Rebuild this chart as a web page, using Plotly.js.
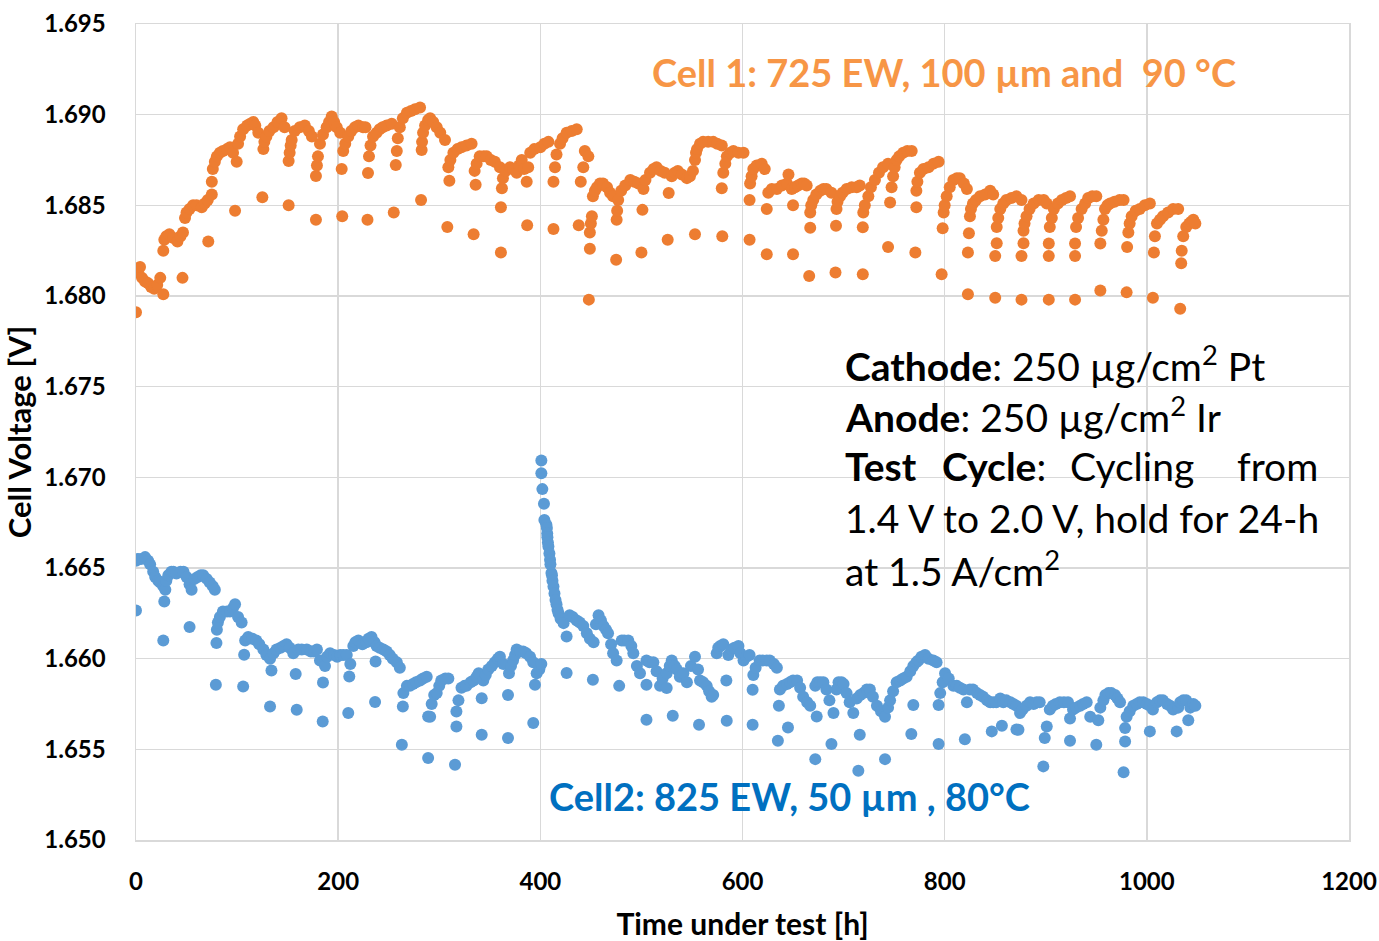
<!DOCTYPE html>
<html>
<head>
<meta charset="utf-8">
<script src="https://cdn.plot.ly/plotly-3.0.1.min.js"></script>
<style>
  html, body { margin: 0; padding: 0; background: #ffffff; }
  #chart { width: 1379px; height: 941px; }
</style>
</head>
<body>
<div id="chart"></div>
<script>
// ---- Cell 1 (725 EW, 100 um, 90 C) : time [h] and cell voltage [V] ----
const cell1Hours = [
  0, 0, 2, 4, 6, 9, 12, 15, 18, 21, 24, 27,
  27, 28, 30, 33, 37, 41, 44, 46.5, 46,
  48.5, 50, 53, 56.5, 60, 65, 68, 71, 75, 71.5,
  75, 76, 78, 80, 83, 86, 90, 93, 96, 99.6, 98,
  101, 103, 106, 110, 113, 116, 118, 121, 125,
  126, 127, 129, 132, 136, 140, 144, 147, 151, 151,
  152, 153, 154, 157, 162, 167, 171, 174, 178, 178,
  179, 180, 182, 185, 188.6, 191, 193.6, 196, 198.6, 202, 204, 203.5,
  205, 207, 210, 213, 216.6, 220, 224.6, 227, 229, 229.5,
  230.5, 232, 234.5, 238, 241, 244, 248, 253, 255, 257,
  258, 259, 261, 264, 268, 272, 276, 281, 282, 282.6,
  283, 284, 286, 289, 291, 294, 297.5, 301, 305.7, 308, 310,
  309, 311, 314, 318, 322, 327, 332, 334, 336,
  335, 337, 340, 344, 347, 351, 355, 360, 361, 361, 362,
  363, 366, 370, 373, 376.6, 379, 381.6, 384, 386.5, 387,
  388, 390, 394, 400, 404, 408, 413, 413,
  414.5, 416, 419.5, 422, 426, 431, 436, 438, 440,
  442.5, 444, 447.5, 448, 449,
  449, 450, 451, 452, 454, 456, 459, 462, 466, 469, 472, 475, 475.5,
  476, 477, 480, 484, 489, 493, 497, 500, 501,
  502, 504, 508.5, 512, 515, 519, 523, 526, 527,
  530, 533, 536, 540, 545, 548, 551, 553,
  553, 554, 555, 558, 561, 566, 571, 575, 579.5, 580, 579.5,
  581, 583, 584.5, 588, 591, 596, 601, 607, 607,
  607.5, 609, 610.7, 614, 619, 622, 624, 624,
  625.5, 629, 634, 639, 644, 645.5, 648.7, 650, 650,
  652, 655, 658.6, 661, 663.5, 666, 667,
  667, 668, 670, 673, 677, 680, 683, 688, 692, 692.5,
  693, 694, 696.5, 699, 703, 708, 713, 716, 719, 719,
  719.5, 721, 724.5, 727, 731, 735, 739, 744, 744, 746,
  747.5, 749, 750.5, 752.5, 755, 759, 763, 767.4, 771, 772,
  772, 773, 775.5, 779, 784, 789, 794, 797, 798,
  799, 800, 802, 805, 808.6, 812, 815, 819, 822, 823, 823, 824,
  825, 826, 828, 831, 835, 840, 845, 848, 850, 850, 851.5,
  851.5, 853, 855, 858, 861, 866, 871, 876, 876, 876, 878,
  878, 879, 881, 884, 888, 893, 898, 901, 903, 903,
  903, 904, 906, 908, 912, 916, 920, 924, 929, 929,
  929, 930, 932, 935.5, 939, 942, 946, 950, 954, 954,
  955.4, 957, 958.6, 961, 963.6, 968, 973, 977, 980, 980.5,
  981.7, 983, 985, 989, 993, 998, 1003, 1006, 1007,
  1008, 1010, 1013, 1016, 1021, 1026, 1031, 1033, 1034,
  1034.5, 1036, 1039, 1042, 1044, 1046, 1048
];
const cell1Voltage = [
  1.6791, 1.6813, 1.6814, 1.6816, 1.6810, 1.6808, 1.6807, 1.6805, 1.6804, 1.6806, 1.6810, 1.6801,
  1.6825, 1.6831, 1.6833, 1.6834, 1.6832, 1.6830, 1.6833, 1.6835, 1.6810,
  1.6843, 1.6846, 1.6848, 1.6850, 1.6850, 1.6849, 1.6851, 1.6853, 1.6856, 1.6830,
  1.6863, 1.6870, 1.6874, 1.6877, 1.6879, 1.6880, 1.6881, 1.6882, 1.6879, 1.6874, 1.6847,
  1.6884, 1.6888, 1.6892, 1.6894, 1.6895, 1.6896, 1.6894, 1.6890, 1.68545,
  1.6881, 1.6885, 1.6888, 1.6891, 1.6893, 1.6896, 1.6898, 1.6893, 1.6850, 1.68745,
  1.6879, 1.6883, 1.6886, 1.6891, 1.6893, 1.6894, 1.6891, 1.6888, 1.6842, 1.68662,
  1.6872, 1.6877, 1.6884, 1.6889, 1.6893, 1.6896, 1.6899, 1.6896, 1.6893, 1.6890, 1.6844, 1.6870,
  1.6880, 1.6884, 1.6888, 1.6891, 1.6893, 1.6894, 1.6893, 1.6893, 1.6842, 1.68678,
  1.6877, 1.6883, 1.6888, 1.6890, 1.6892, 1.6893, 1.6894, 1.6895, 1.6846, 1.68723,
  1.6880, 1.6887, 1.6893, 1.6898, 1.6901, 1.6902, 1.6903, 1.6904, 1.6853, 1.68805,
  1.6885, 1.6890, 1.6894, 1.6897, 1.6898, 1.6896, 1.6893, 1.6890, 1.6886, 1.6838, 1.68636,
  1.6871, 1.6875, 1.6879, 1.6881, 1.6882, 1.6883, 1.6884, 1.6834, 1.68613,
  1.6869, 1.6873, 1.6877, 1.6877, 1.6877, 1.6875, 1.6874, 1.6871, 1.6824, 1.6849, 1.68594,
  1.6865, 1.6869, 1.6871, 1.6870, 1.6868, 1.6872, 1.6875, 1.6870, 1.6863, 1.6839,
  1.6871, 1.6879, 1.6881, 1.6882, 1.6884, 1.6885, 1.6837, 1.6863,
  1.6871, 1.6878, 1.6884, 1.6887, 1.6890, 1.6891, 1.6892, 1.6839, 1.6863,
  1.6871, 1.6880, 1.6877, 1.6798, 1.6826,
  1.6835, 1.6840, 1.6844, 1.6855, 1.6858, 1.6860, 1.6862, 1.6862, 1.6860, 1.6857, 1.6855, 1.6820, 1.6842,
  1.6847, 1.6853, 1.6858, 1.6861, 1.6864, 1.6863, 1.6862, 1.6824, 1.68475,
  1.6859, 1.6864, 1.6868, 1.6870, 1.6871, 1.6869, 1.6868, 1.6831, 1.68568,
  1.6866, 1.6868, 1.6869, 1.6867, 1.6865, 1.6866, 1.6869, 1.6834,
  1.6875, 1.6879, 1.6881, 1.6884, 1.6885, 1.6885, 1.6885, 1.6884, 1.6883, 1.6833, 1.68594,
  1.6868, 1.6873, 1.6877, 1.6879, 1.6880, 1.6879, 1.6879, 1.6831, 1.6853,
  1.6862, 1.6866, 1.6870, 1.6872, 1.6873, 1.6870, 1.6823, 1.6848,
  1.6857, 1.6859, 1.6859, 1.6861, 1.6862, 1.6867, 1.6859, 1.6823, 1.6850,
  1.6860, 1.6861, 1.6862, 1.6862, 1.6861, 1.6811, 1.68377,
  1.6846, 1.6850, 1.6853, 1.6856, 1.6858, 1.6859, 1.6859, 1.6857, 1.6813, 1.68388,
  1.6848, 1.6852, 1.6855, 1.6857, 1.6859, 1.6860, 1.6860, 1.6861, 1.6812, 1.68379,
  1.6846, 1.6850, 1.6855, 1.6860, 1.6864, 1.6868, 1.6871, 1.6873, 1.6827, 1.68515,
  1.6860, 1.6866, 1.6871, 1.6875, 1.6877, 1.6879, 1.6880, 1.6880, 1.6824, 1.6849,
  1.6858, 1.6863, 1.6868, 1.6870, 1.6871, 1.6873, 1.6874, 1.6812, 1.68374,
  1.6846, 1.6850, 1.6855, 1.6860, 1.6864, 1.6865, 1.6865, 1.6862, 1.6859, 1.6801, 1.6824, 1.68346,
  1.6844, 1.6848, 1.6851, 1.6853, 1.6855, 1.6856, 1.6858, 1.6856, 1.6799, 1.6822, 1.68291,
  1.6838, 1.6843, 1.6848, 1.6851, 1.6853, 1.6854, 1.6855, 1.6853, 1.6798, 1.6822, 1.68291,
  1.6836, 1.6840, 1.6844, 1.6848, 1.6851, 1.6853, 1.6853, 1.6851, 1.6798, 1.6822,
  1.6829, 1.6838, 1.6843, 1.6848, 1.6851, 1.6853, 1.6854, 1.6855, 1.6798, 1.6822,
  1.6829, 1.6838, 1.6843, 1.6848, 1.6851, 1.6854, 1.6855, 1.6855, 1.6803, 1.6829,
  1.6836, 1.6842, 1.6848, 1.6850, 1.6851, 1.6852, 1.6853, 1.6853, 1.6802, 1.6827,
  1.6835, 1.6840, 1.6844, 1.6847, 1.6848, 1.6850, 1.6851, 1.6799, 1.6824,
  1.6833, 1.6840, 1.6842, 1.6844, 1.6846, 1.6848, 1.6848, 1.6793, 1.6818,
  1.6825, 1.6833, 1.6838, 1.6840, 1.6841, 1.6842, 1.6840
];

// ---- Cell 2 (825 EW, 50 um, 80 C) : time [h] and cell voltage [V] ----
const cell2Hours = [
  0, 0, 2, 5, 9, 12, 14, 17, 19, 22, 24, 27, 29, 27, 28,
  30, 32, 35, 37, 40, 44, 47, 50, 53, 55, 53,
  58, 61, 64, 66.5, 70, 73, 76, 78, 79, 79.6,
  80, 81, 83, 86, 90, 93, 96, 98, 101, 104.5, 107, 106,
  108, 111, 115, 119, 122, 126, 129, 132.6, 134, 132.6,
  136, 139, 143, 146, 149, 152, 155.6, 158, 159,
  160.6, 164, 169, 173, 176, 179, 182, 185, 184.7,
  187, 189, 192, 196, 199, 202, 205, 208.5, 212, 211, 210,
  215, 217, 220, 224, 228, 230, 233, 236, 238, 241, 244.7, 248, 251, 254, 258, 261, 237, 236.5,
  264, 263, 264.5, 268, 271, 274, 277, 281, 284, 287.6, 289, 289,
  291, 292.5, 295, 297.5, 300, 302, 306, 309, 315.6, 317, 317,
  319, 322, 325, 327, 331, 334, 337, 339, 342, 342,
  343.6, 346, 348.5, 352, 355, 358, 360, 363.4, 368, 368,
  369, 371, 373, 375, 376.6, 380, 383, 386, 389.8, 393, 393, 394.7,
  396.4, 399, 401,
  401, 401, 402, 403.6, 404, 406, 406.5, 406.8, 407, 407.5, 408, 409, 409.6, 410, 411, 411.5, 412, 413, 414, 415, 416, 417, 418, 420, 423, 426, 426,
  429, 432, 436, 439, 442.5, 446, 449, 452.7, 452,
  455, 457.6, 460, 462.5, 465, 467, 470, 472, 475.5, 478,
  480.5, 483, 487, 490, 492, 495.5, 498.6, 505, 505,
  505, 508, 511.8, 515, 518.4, 521, 525, 528, 530, 533, 535, 531, 525,
  538, 541.5, 545, 549, 553, 556, 558, 557,
  561, 564.6, 567, 569.5, 571, 574.5, 576, 578, 581, 584, 584.4,
  586, 589, 592, 596, 598, 601, 604, 607, 610, 610,
  610.7, 613, 617, 620, 624, 627, 631, 634, 635, 636, 645,
  637, 640, 644, 647, 650, 654, 657, 660, 664, 667, 672, 673.4,
  672, 674, 677, 680, 683, 686, 690, 688,
  693, 695, 698, 700, 703, 706, 709.6, 716, 714.6,
  713, 716.5, 719.5, 723, 726, 729, 733, 737, 741, 741,
  744, 746, 749, 752.5, 756, 759, 762.4, 766, 769, 769, 767,
  772, 774, 777, 780.6, 784, 788.8, 792, 794, 794,
  795.6, 798, 800.4, 804, 808.6, 812, 815, 818.5, 822, 820,
  825, 828, 832, 835, 838, 842, 845, 848, 846.6,
  851, 855, 858, 861, 865, 868, 871, 856.6, 871, 873,
  874.6, 877, 881, 884.5, 888, 891, 894, 897.6, 899, 901,
  904, 907, 910, 914, 918, 922, 924, 924,
  927, 930, 934, 937, 940.5, 944, 950,
  952, 954, 957, 959, 962, 965, 968.5, 971, 973.5, 977, 978.5, 978.5,
  980, 983, 986.6, 990, 993, 996.5, 1000, 1003, 1003,
  1006, 1010, 1013, 1016, 1020, 1023, 1026, 1029.5,
  1031, 1033, 1036, 1039, 1041, 1043, 1046, 1048
];
const cell2Voltage = [
  1.66266, 1.6654, 1.6655, 1.6655, 1.6656, 1.6654, 1.6652, 1.6648, 1.6645, 1.6643, 1.6642, 1.6640, 1.6638, 1.6610, 1.66315,
  1.6643, 1.6646, 1.6648, 1.6648, 1.6647, 1.6648, 1.6648, 1.6645, 1.6641, 1.6638, 1.66174,
  1.6644, 1.6645, 1.6646, 1.6646, 1.6644, 1.6642, 1.6640, 1.6638, 1.65856, 1.66086,
  1.6616, 1.6620, 1.6623, 1.6626, 1.6626, 1.6626, 1.6628, 1.6630, 1.6623, 1.6620, 1.66022, 1.65847,
  1.6610, 1.6612, 1.6611, 1.6610, 1.6608, 1.6605, 1.6602, 1.6600, 1.65935, 1.65736,
  1.6603, 1.6605, 1.6606, 1.6607, 1.6608, 1.6606, 1.6603, 1.65916, 1.65718,
  1.6605, 1.6605, 1.6605, 1.6604, 1.6604, 1.6605, 1.6599, 1.65869, 1.65654,
  1.6596, 1.6601, 1.6603, 1.6602, 1.6601, 1.6602, 1.6602, 1.6602, 1.6597, 1.65902, 1.6570,
  1.6607, 1.6609, 1.6610, 1.6608, 1.6609, 1.6611, 1.6612, 1.6609, 1.6607, 1.6606, 1.6605, 1.6604, 1.6602, 1.6600, 1.6598, 1.6595, 1.65985, 1.65761,
  1.65736, 1.65525, 1.6581, 1.6585, 1.6585, 1.6586, 1.6587, 1.6588, 1.6589, 1.6590, 1.65681, 1.65452,
  1.6568, 1.6575, 1.6580, 1.6581, 1.6585, 1.6588, 1.6589, 1.6589, 1.65415, 1.65626, 1.65709,
  1.6577, 1.6584, 1.6585, 1.6585, 1.6587, 1.6588, 1.6590, 1.6592, 1.6558, 1.65782,
  1.6588, 1.6591, 1.6594, 1.6596, 1.6598, 1.6600, 1.6601, 1.6597, 1.65562, 1.6580,
  1.6592, 1.6596, 1.6599, 1.6602, 1.6605, 1.6604, 1.6604, 1.6603, 1.6601, 1.6598, 1.65645, 1.65856,
  1.6592, 1.6594, 1.6597,
  1.67093, 1.67023, 1.66935, 1.66854, 1.66765, 1.66738, 1.6672, 1.6669, 1.6667, 1.6664, 1.66619, 1.6658, 1.66545, 1.6652, 1.66472, 1.6646, 1.6643, 1.66398, 1.6636, 1.66324, 1.6630, 1.6627, 1.66251, 1.6622, 1.66196, 1.65921, 1.66122,
  1.6624, 1.6623, 1.6621, 1.6620, 1.6618, 1.6614, 1.6611, 1.6609, 1.65884,
  1.6619, 1.6624, 1.6621, 1.6618, 1.6616, 1.6614, 1.6608, 1.6603, 1.6599, 1.6585,
  1.6610, 1.6610, 1.6610, 1.6607, 1.6603, 1.6596, 1.6592, 1.65663, 1.65856,
  1.6599, 1.6598, 1.6598, 1.6593, 1.6585, 1.6589, 1.6592, 1.6596, 1.6599, 1.6596, 1.6594, 1.65685, 1.65838,
  1.6590, 1.6592, 1.6587, 1.6596, 1.6601, 1.6594, 1.6588, 1.65636,
  1.6587, 1.6585, 1.6582, 1.6579, 1.6580, 1.6603, 1.6606, 1.6607, 1.6608, 1.6588, 1.65657,
  1.6602, 1.6605, 1.6606, 1.6607, 1.6603, 1.6599, 1.6601, 1.6602, 1.65636, 1.65829,
  1.6591, 1.6595, 1.6599, 1.6599, 1.6599, 1.6599, 1.6597, 1.6595, 1.65547, 1.6574, 1.6562,
  1.6583, 1.6585, 1.6586, 1.6587, 1.6588, 1.6588, 1.6584, 1.6579, 1.6576, 1.6574, 1.65446, 1.65681,
  1.6585, 1.6587, 1.6587, 1.6587, 1.6583, 1.6577, 1.6570, 1.65529,
  1.6583, 1.6587, 1.6587, 1.6586, 1.6581, 1.6576, 1.6570, 1.6558, 1.65382,
  1.6578, 1.6580, 1.6581, 1.6583, 1.6583, 1.6579, 1.6574, 1.6571, 1.6568, 1.65446,
  1.6573, 1.6577, 1.6582, 1.6587, 1.6588, 1.6589, 1.6590, 1.6593, 1.6596, 1.65745, 1.65584,
  1.6598, 1.6599, 1.6601, 1.6602, 1.6600, 1.6599, 1.6598, 1.65529, 1.65745,
  1.6581, 1.6587, 1.6592, 1.6589, 1.6585, 1.6585, 1.6584, 1.6583, 1.6576, 1.65556,
  1.6583, 1.6583, 1.6581, 1.6580, 1.6579, 1.6577, 1.6576, 1.6576, 1.65599,
  1.6576, 1.6578, 1.6576, 1.6577, 1.6576, 1.6575, 1.6574, 1.6563, 1.6561, 1.65608,
  1.6570, 1.6572, 1.6574, 1.6576, 1.6575, 1.6576, 1.6576, 1.65406, 1.65562, 1.65626,
  1.6572, 1.6574, 1.6575, 1.6576, 1.6576, 1.6576, 1.6567, 1.65547,
  1.6572, 1.6573, 1.6574, 1.6575, 1.6576, 1.6568, 1.65525,
  1.6566, 1.6573, 1.6577, 1.6580, 1.6581, 1.6581, 1.6580, 1.6578, 1.6576, 1.65373, 1.65543, 1.65617,
  1.6568, 1.6571, 1.6574, 1.6575, 1.6576, 1.6576, 1.6575, 1.6574, 1.65599,
  1.6572, 1.6576, 1.6577, 1.6577, 1.6575, 1.6574, 1.6572, 1.65599,
  1.6573, 1.6576, 1.6577, 1.6577, 1.6566, 1.6573, 1.6575, 1.6574
];

// ---- axis ticks and labels ----
const xTickValues = [0, 200, 400, 600, 800, 1000, 1200];
const yTickValues = [1.650, 1.655, 1.660, 1.665, 1.670, 1.675, 1.680, 1.685, 1.690, 1.695];
const xAxisTitle = 'Time under test [h]';
const yAxisTitle = 'Cell Voltage [V]';
const cell1Label = 'Cell 1: 725 EW, 100 µm and\u00a0\u00a090 °C';
const cell2Label = 'Cell2: 825 EW, 50 µm , 80°C';

const FONT = 'Lato, "Open Sans", "DejaVu Sans", sans-serif';
const GRID = '#d9d9d9';

const traces = [
  {
    type: 'scatter', mode: 'markers', name: 'Cell 1',
    x: cell1Hours, y: cell1Voltage,
    marker: { color: '#ED7D31', size: 12, line: { width: 0 } },
    hoverinfo: 'x+y'
  },
  {
    type: 'scatter', mode: 'markers', name: 'Cell 2',
    x: cell2Hours, y: cell2Voltage,
    marker: { color: '#5B9BD5', size: 12, line: { width: 0 } },
    hoverinfo: 'x+y'
  }
];

const textFont = { family: FONT, size: 39, color: '#000000' };
function note(text, x, y, anchor) {
  return { xref: 'paper', yref: 'paper', x: x, y: y, xanchor: anchor || 'left', yanchor: 'middle',
           text: text, showarrow: false, font: textFont };
}

const layout = {
  width: 1379, height: 941,
  margin: { l: 136, r: 30, t: 24, b: 101 },
  paper_bgcolor: '#ffffff', plot_bgcolor: '#ffffff',
  showlegend: false,
  font: { family: FONT, color: '#000000' },
  xaxis: {
    range: [0, 1200], tickvals: xTickValues, ticktext: xTickValues.map(String),
    showgrid: true, gridcolor: GRID, gridwidth: 1.5,
    showline: true, linecolor: GRID, linewidth: 1.5, mirror: true,
    zeroline: false, ticks: '', ticklabelstandoff: 20,
    tickfont: { family: FONT, size: 24, color: '#000000', weight: 'bold' },
    title: { text: '<b>' + xAxisTitle + '</b>', font: { family: FONT, size: 30, color: '#000000' }, standoff: 20 },
    automargin: false
  },
  yaxis: {
    range: [1.650, 1.695], tickvals: yTickValues, ticktext: yTickValues.map(v => v.toFixed(3)),
    showgrid: true, gridcolor: GRID, gridwidth: 1.5,
    showline: true, linecolor: GRID, linewidth: 1.5, mirror: true,
    zeroline: false, ticks: '', ticklabelstandoff: 24,
    tickfont: { family: FONT, size: 24, color: '#000000', weight: 'bold' },
    title: { text: '<b>' + yAxisTitle + '</b>', font: { family: FONT, size: 31, color: '#000000' }, standoff: 6 },
    automargin: false
  },
  shapes: [
    { type: 'rect', xref: 'paper', yref: 'paper', x0: 0.39, x1: 0.995, y0: 0.459, y1: 0.553,
      fillcolor: '#ffffff', line: { width: 0 }, layer: 'between' }
  ],
  annotations: [
    { xref: 'paper', yref: 'paper', x: 0.666, y: 0.941, xanchor: 'center', yanchor: 'middle',
      text: '<b>' + cell1Label + '</b>', showarrow: false,
      font: { family: FONT, size: 38, color: '#F79646' } },
    { xref: 'paper', yref: 'paper', x: 0.5388, y: 0.054, xanchor: 'center', yanchor: 'middle',
      text: '<b>' + cell2Label + '</b>', showarrow: false,
      font: { family: FONT, size: 38, color: '#0070C0' } },
    note('<b>Cathode</b>: 250 µg/cm<sup>2</sup> Pt', 0.583, 0.584),
    note('<b>Anode</b>: 250 µg/cm<sup>2</sup> Ir', 0.583, 0.5216),
    note('<b>Test</b>', 0.583, 0.458),
    note('<b>Cycle</b>:', 0.663, 0.458),
    note('Cycling', 0.768, 0.458),
    note('from', 0.976, 0.458, 'right'),
    note('1.4 V to 2.0 V, hold for 24-h', 0.583, 0.395),
    note('at 1.5 A/cm<sup>2</sup>', 0.583, 0.333)
  ]
};

Plotly.newPlot('chart', traces, layout, { displayModeBar: false, staticPlot: true });
</script>
</body>
</html>
